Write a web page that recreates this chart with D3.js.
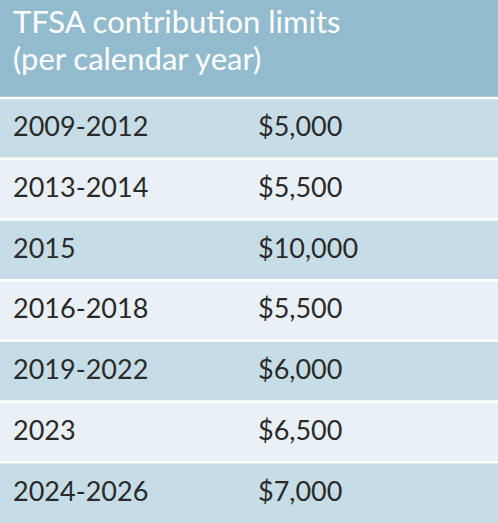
<!DOCTYPE html>
<html><head><meta charset="utf-8">
<script src="https://cdn.jsdelivr.net/npm/d3@7"></script>
<style>body{margin:0;background:#fff}</style></head>
<body><svg id="c" width="498" height="523"></svg>
<script>
const titleLines = ["TFSA contribution limits", "(per calendar year)"];
const periods = ["2009-2012","2013-2014","2015","2016-2018","2019-2022","2023","2024-2026"];
const limits = [5000,5500,10000,5500,6000,6500,7000];

const svg = d3.select("#c");
const W = 498, H = 523, headerH = 98;
svg.append("rect").attr("width",W).attr("height",headerH).attr("fill","#93bbce");
svg.selectAll("text.t").data(titleLines).join("text")
  .attr("x",13).attr("y",(d,i)=>33+i*37)
  .attr("font-family","Lato, 'Open Sans', sans-serif").attr("font-size",31)
  .attr("fill","#fff").text(d=>d);

const y = d3.scaleBand().domain(periods).range([headerH, H]);
const fmt = d3.format("$,");
const g = svg.selectAll("g.r").data(periods).join("g").attr("transform",d=>`translate(0,${y(d)})`);
g.append("rect").attr("width",W).attr("height",y.bandwidth())
  .attr("fill",(d,i)=>i%2===0?"#c6dde7":"#e9f1f7");
g.append("line").attr("x1",0).attr("x2",W).attr("y1",0).attr("y2",0)
  .attr("stroke","#fff").attr("stroke-width",2.5);
g.append("text").attr("x",13).attr("y",y.bandwidth()/2+8)
  .attr("font-family","Lato, 'Open Sans', sans-serif").attr("font-size",27)
  .attr("fill","#2a2a2a").text(d=>d);
g.append("text").attr("x",258).attr("y",y.bandwidth()/2+8)
  .attr("font-family","Lato, 'Open Sans', sans-serif").attr("font-size",27)
  .attr("fill","#2a2a2a").text((d,i)=>fmt(limits[i]));
</script></body></html>
